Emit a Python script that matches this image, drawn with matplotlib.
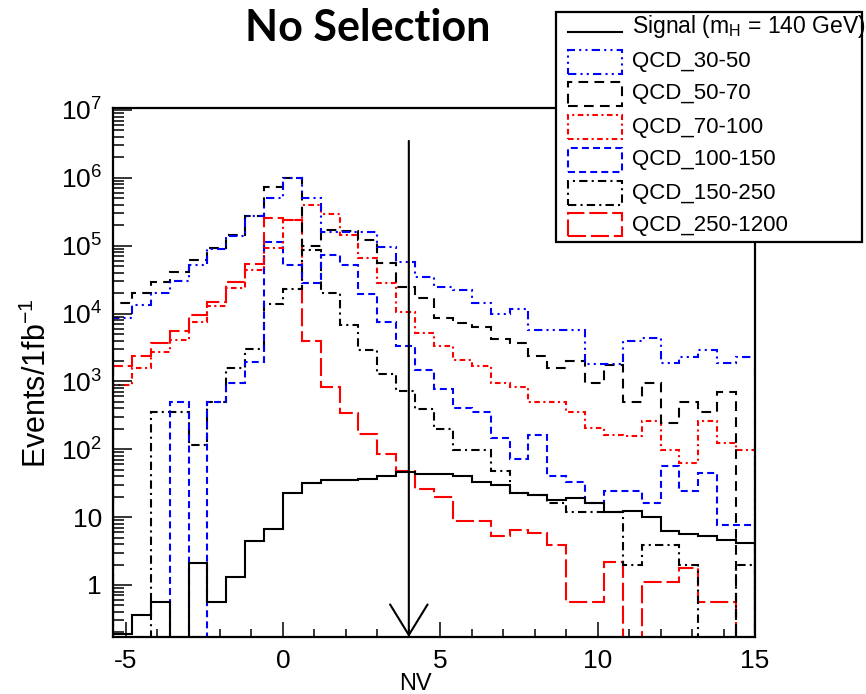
import numpy as np
import matplotlib
matplotlib.use("Agg")
import matplotlib.pyplot as plt
from matplotlib.patches import Rectangle
from matplotlib.lines import Line2D
from matplotlib.ticker import FixedLocator, FuncFormatter, MultipleLocator, NullFormatter

plt.rcParams['font.family'] = ['Liberation Sans', 'DejaVu Sans']
plt.rcParams['mathtext.fontset'] = 'custom'
plt.rcParams['mathtext.rm'] = 'Liberation Sans'
plt.rcParams['mathtext.it'] = 'Liberation Sans:italic'
plt.rcParams['mathtext.bf'] = 'Liberation Sans:bold'
plt.rcParams['lines.scale_dashes'] = False
plt.rcParams['axes.unicode_minus'] = False

# NV binning: 34 bins of width 0.6 between -5.4 and 15
nv_lo, nv_hi, n_bins = -5.4, 15.0, 34
nv_edges = np.linspace(nv_lo, nv_hi, n_bins + 1)

# events / 1 fb^-1 per bin (0 = empty bin)
signal = [0.19, 0.36, 0.57, 0, 2.1, 0.57, 1.3, 4.5, 6.7, 23,
          31.6, 35, 35, 37, 41, 47, 43, 43, 40, 33,
          30, 22.5, 21, 18, 19, 16, 12, 12.5, 10, 6.3,
          5.6, 5.2, 4.6, 4.1]
qcd_30_50 = [8.5e3, 1.35e4, 2.0e4, 3.0e4, 5.2e4, 8.9e4, 1.41e5, 2.7e5, 5.0e5, 1.0e6,
             5.0e5, 1.6e5, 1.6e5, 1.6e5, 9.7e4, 5.8e4, 3.4e4, 2.5e4, 2.2e4, 1.45e4,
             1.0e4, 1.17e4, 5.7e3, 5.7e3, 5.7e3, 1.8e3, 1.8e3, 3.9e3, 4.4e3, 1.86e3,
             2.3e3, 2.9e3, 1.86e3, 2.3e3]
qcd_50_70 = [1.43e4, 2.04e4, 2.96e4, 4.06e4, 6.2e4, 9.4e4, 1.45e5, 2.7e5, 7.4e5, 1.0e6,
             1.0e5, 1.7e5, 1.66e5, 1.2e5, 5.5e4, 2.5e4, 1.7e4, 8.6e3, 7.2e3, 6.3e3,
             4.2e3, 3.7e3, 2.4e3, 1.58e3, 1.97e3, 940, 1.75e3, 490, 940, 240,
             490, 350, 690, 0]
qcd_70_100 = [890, 1.58e3, 2.75e3, 4.1e3, 7.6e3, 1.3e4, 2.4e4, 4.4e4, 9.1e4, 2.4e5,
              4.0e5, 2.9e5, 1.45e5, 6.6e4, 2.8e4, 1.05e4, 5.1e3, 3.3e3, 2.1e3, 1.66e3,
              940, 840, 490, 490, 360, 205, 163, 158, 257, 98,
              63, 257, 123, 98]
qcd_100_150 = [0, 0, 0, 490, 0, 490, 940, 1.9e3, 1.15e5, 5.2e4,
               2.8e4, 7.4e4, 5.2e4, 1.95e4, 7.6e3, 3.3e3, 1.48e3, 760, 400, 360,
               145, 71, 163, 40, 33, 16, 24, 24, 16, 56,
               24, 45, 7.7, 7.7]
qcd_150_250 = [0, 0, 360, 360, 116, 490, 1.6e3, 3.0e3, 1.4e4, 2.3e4,
               8.6e4, 2.0e4, 6.8e3, 2.9e3, 1.3e3, 710, 395, 200, 96, 96,
               48, 22.6, 21, 16.4, 12, 12, 12, 2.0, 3.9, 3.9,
               2.0, 0, 0, 2.0]
qcd_250_1200 = [1.66e3, 2.4e3, 3.7e3, 5.6e3, 9.4e3, 1.5e4, 2.9e4, 5.4e4, 2.6e5, 2.4e5,
                3.9e3, 840, 340, 170, 86, 48, 26, 19.5, 8.9, 8.9,
                5.3, 6.5, 5.8, 3.9, 0.57, 0.57, 2.2, 0, 1.1, 1.1,
                1.76, 0.57, 0.57, 0]

labels = ['Signal (m$_{\\mathregular{H}}$ = 140 GeV)', 'QCD_30-50', 'QCD_50-70',
          'QCD_70-100', 'QCD_100-150', 'QCD_150-250', 'QCD_250-1200']

x_ticks = [-5, 0, 5, 10, 15]
y_decades = [0, 1, 2, 3, 4, 5, 6, 7]

cut_nv = 4.0        # NV cut shown by the arrow
cut_top = 3.5e6
y_min, y_max = 0.171, 1.07e7

# (values, colour, dash pattern in points; None = solid)
series = [
    (signal, 'black', None),
    (qcd_30_50, '#0000ff', (6, 3, 1.5, 3, 1.5, 3)),
    (qcd_50_70, 'black', (7, 4.5)),
    (qcd_70_100, '#ff0000', (4, 2.5, 1.5, 2.5)),
    (qcd_100_150, '#0000ff', (5, 3)),
    (qcd_150_250, 'black', (6, 3, 1.5, 3)),
    (qcd_250_1200, '#ff0000', (13, 3.5)),
]

W, H = 866, 694
fig = plt.figure(figsize=(W / 100, H / 100), dpi=100)


def fpos(x, y):
    # pixel position (origin top-left) -> figure fraction
    return x / W, 1 - y / H


ax = fig.add_axes([113 / W, 1 - 637 / H, (755 - 113) / W, (637 - 108) / H])
floor = 1e-3
for vals, color, dashes in reversed(series):
    v = np.asarray(vals, dtype=float)
    v = np.where(v > 0, v, floor)
    ls = '-' if dashes is None else (0, dashes)
    ax.stairs(v, nv_edges, baseline=floor, color=color, lw=1.5, linestyle=ls)

ax.set_xlim(nv_lo, nv_hi)
ax.set_yscale('log')
ax.set_ylim(y_min, y_max)

ax.annotate('', xy=(cut_nv, y_min), xytext=(cut_nv, cut_top),
            arrowprops=dict(arrowstyle='->,head_length=2.2,head_width=1.35',
                            mutation_scale=10, lw=1.5, color='black',
                            shrinkA=0, shrinkB=0))

for s in ax.spines.values():
    s.set_linewidth(1.6)

ax.xaxis.set_major_locator(FixedLocator(x_ticks))
ax.xaxis.set_minor_locator(MultipleLocator(1))
major_y = [10.0 ** e for e in y_decades]
minor_y = [m * 10.0 ** e for e in range(-1, 7) for m in range(2, 10)
           if y_min <= m * 10.0 ** e <= y_max]
ax.yaxis.set_major_locator(FixedLocator(major_y))
ax.yaxis.set_minor_locator(FixedLocator(minor_y))
ax.yaxis.set_minor_formatter(NullFormatter())


def fmt_pow(v, pos):
    e = int(round(np.log10(v)))
    if e == 0:
        return '1'
    if e == 1:
        return '10'
    return '$\\mathregular{10^{%d}}$' % e


ax.yaxis.set_major_formatter(FuncFormatter(fmt_pow))
ax.tick_params(axis='both', which='both', direction='in', top=False, right=False,
               width=1.1, labelsize=19)
ax.tick_params(axis='x', which='major', length=11, pad=9)
ax.tick_params(axis='x', which='minor', length=6)
ax.tick_params(axis='y', which='major', length=14, pad=8)
ax.tick_params(axis='y', which='minor', length=8)

fig.text(*fpos(37, 383), 'Events/1fb$^{\\mathregular{-1}}$', rotation=90,
         ha='center', va='center', fontsize=22)
fig.text(*fpos(415, 684), 'NV', ha='center', va='center', fontsize=17)
fig.text(*fpos(368, 28), 'No Selection', ha='center', va='center',
         fontsize=31, fontweight='bold', family=['Lato', 'DejaVu Sans'])

# legend box
fig.add_artist(Rectangle(fpos(556, 242), (862 - 556) / W, (242 - 12) / H,
                         transform=fig.transFigure, facecolor='white',
                         edgecolor='black', lw=1.6, zorder=5))
row_y = [30, 62, 94, 127, 160, 193, 225]
for (vals, color, dashes), label, yy in zip(series, labels, row_y):
    if dashes is None:
        fig.add_artist(Line2D([568 / W, 622 / W], [1 - 32 / H] * 2,
                              transform=fig.transFigure, color=color, lw=1.5, zorder=6))
        fig.text(*fpos(632, 26), label, ha='left', va='center', fontsize=16.5, zorder=6)
    else:
        fig.add_artist(Rectangle(fpos(568, yy + 11.5), 54 / W, 23 / H,
                                 transform=fig.transFigure, facecolor='none',
                                 edgecolor=color, lw=1.5, linestyle=(0, dashes), zorder=6))
        fig.text(*fpos(632, yy), label, ha='left', va='center', fontsize=16, zorder=6)

fig.savefig('out.png', dpi=100)
